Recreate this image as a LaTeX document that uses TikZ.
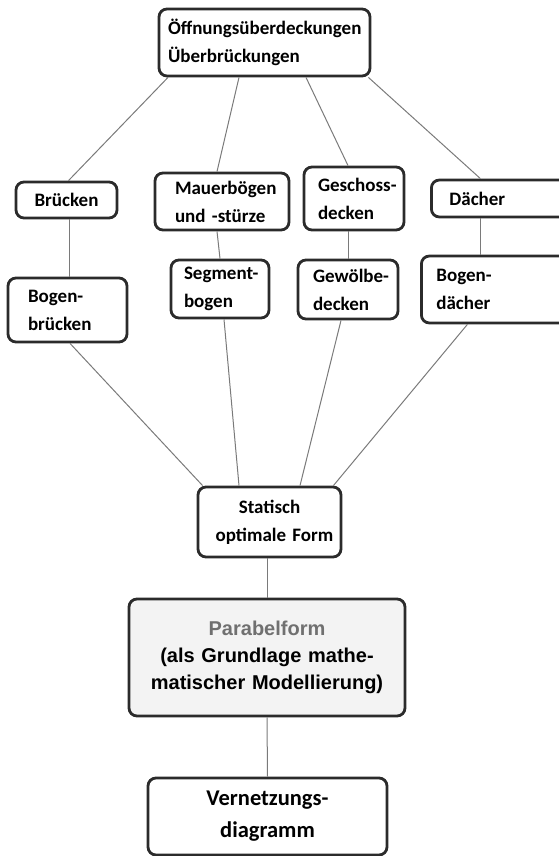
\documentclass[tikz,border=0pt]{standalone}
\usepackage{fontspec}
\setmainfont{Carlito}
\newfontfamily\arialfont{Liberation Sans}
\definecolor{frame_gray}{HTML}{2B2B2B}
\definecolor{link_gray}{HTML}{7A7A7A}
\definecolor{title_gray}{HTML}{707070}
\definecolor{soft_fill}{HTML}{F3F3F3}
\hyphenpenalty=10000
\exhyphenpenalty=10000
\hbadness=10000
\hfuzz=20pt

\begin{document}
\begin{tikzpicture}[x=1pt, y=-1pt,
    box/.style={draw=frame_gray, line width=2.8pt, rounded corners=8pt, fill=white,
        inner ysep=0pt, align=left, font=\bfseries\fontsize{19}{28}\selectfont},
    link/.style={draw=link_gray, line width=1pt}]
   \useasboundingbox (0, 0) rectangle (558, 856);
   % draw top box
   \node [box, text width=193pt, inner xsep=9pt, minimum height=67pt] (top) at (264.5, 42.5)
      {Öffnungsüberdeckungen\\Überbrückungen};
   % draw first row
   \node [box, text width=91pt, inner xsep=5pt, align=center, minimum height=36pt] (bruecken) at (66.5, 200) {Brücken};
   \node [box, text width=94pt, inner xsep=20pt, minimum height=57pt] (mauer) at (222, 201.5) {Mauerbögen\\und -stürze};
   \node [box, text width=72pt, inner xsep=14pt, minimum height=63pt] (geschoss) at (354, 198.5) {Geschoss-\\decken};
   \node [box, anchor=west, text width=100pt, inner xsep=18pt, minimum height=37pt] (daecher) at (430, 198.5) {Dächer};
   % draw second row
   \node [box, text width=79pt, inner xsep=20pt, minimum height=64pt] (bogenbr) at (67.5, 310) {Bogen-\\brücken};
   \node [box, text width=72pt, inner xsep=13pt, minimum height=58pt] (segment) at (220, 289) {Segment-\\bogen};
   \node [box, text width=70pt, inner xsep=15pt, minimum height=59pt] (gewoelbe) at (348, 289.5) {Gewölbe-\\decken};
   \node [box, anchor=west, text width=116pt, inner xsep=15pt, minimum height=67pt] (bogend) at (420, 289.5) {Bogen-\\dächer};
   % draw lower part
   \node [box, text width=139pt, inner xsep=2pt, align=center, minimum height=70pt] (statisch) at (269.5, 522) {Statisch\\\hspace*{10pt}optimale Form};
   \node [box, fill=soft_fill, text width=266pt, inner xsep=5pt, align=center, minimum height=117pt,
      font=\arialfont\bfseries\fontsize{20}{27}\selectfont] (parabel) at (267, 657.5)
      {\textcolor{title_gray}{Parabelform}\\(als Grundlage mathe-\\matischer Modellierung)};
   \node [box, text width=229pt, inner xsep=5pt, align=center, minimum height=77pt,
      font=\bfseries\fontsize{22.5}{32}\selectfont] (vernetz) at (267.5, 816.5) {Vernetzungs-\\diagramm};
   % links from top box
   \draw [link] ([xshift=-96.5pt]top.south) -- ([xshift=2pt]bruecken.north);
   \draw [link] ([xshift=-25.5pt]top.south) -- ([xshift=-5pt]mauer.north);
   \draw [link] ([xshift=41.5pt]top.south) -- ([xshift=-6pt]geschoss.north);
   \draw [link] ([xshift=-3pt]top.south east) -- ([xshift=-19pt]daecher.north);
   % links between rows
   \draw [link] ([xshift=2.5pt]bruecken.south) -- ([xshift=1.5pt]bogenbr.north);
   \draw [link] ([xshift=-5pt]mauer.south) -- (segment.north);
   \draw [link] ([xshift=-6pt]geschoss.south) -- (gewoelbe.north);
   \draw [link] ([xshift=-19pt]daecher.south) -- ([xshift=-14pt]bogend.north);
   % links down to statisch
   \draw [link] ([xshift=2.5pt]bogenbr.south) -- ([xshift=6pt]statisch.north west);
   \draw [link] ([xshift=4pt]segment.south) -- ([xshift=-30.5pt]statisch.north);
   \draw [link] ([xshift=-7pt]gewoelbe.south) -- ([xshift=30.5pt]statisch.north);
   \draw [link] ([xshift=-27pt]bogend.south) -- ([xshift=-9pt]statisch.north east);
   % links to the bottom
   \draw [link] ([xshift=-2.5pt]statisch.south) -- (parabel.north);
   \draw [link] (parabel.south) -- (vernetz.north);
\end{tikzpicture}
\end{document}
